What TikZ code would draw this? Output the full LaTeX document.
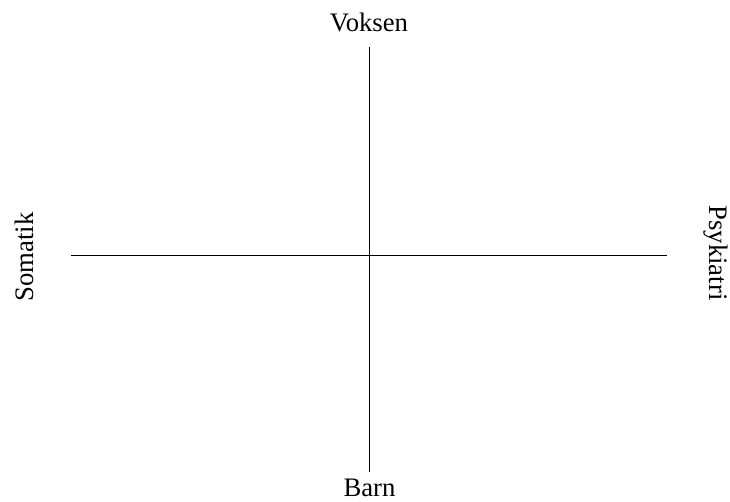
\documentclass[tikz,border=0pt]{standalone}
\usepackage{fontspec}
\setmainfont{Liberation Serif}
\usepackage{tikz}
\usetikzlibrary{positioning}

\begin{document}
\begin{tikzpicture}[
    x=0.02cm, y=-0.02cm,
    lbl/.style={font=\fontsize{15.2}{18}\selectfont, inner sep=0pt, anchor=base},
    axisline/.style={line width=0.55pt}
]
\useasboundingbox (0,0) rectangle (730,502);
% labels
\node[lbl] (voksen) at (369,32) {Voksen};
\node[lbl] (barn) at (369.5,497) {Barn};
\node[lbl, rotate=90] (somatik) at (33,257) {Somatik};
\node[lbl, rotate=-90] (psyk) at (709,253) {Psykiatri};

% axes
\coordinate (top) at (369,47);
\coordinate (bottom) at (369,472);
\coordinate (left) at (71,255);
\coordinate (right) at (667,255);
\draw[axisline] (top) -- (bottom);
\draw[axisline] (left) -- (right);
\end{tikzpicture}
\end{document}
